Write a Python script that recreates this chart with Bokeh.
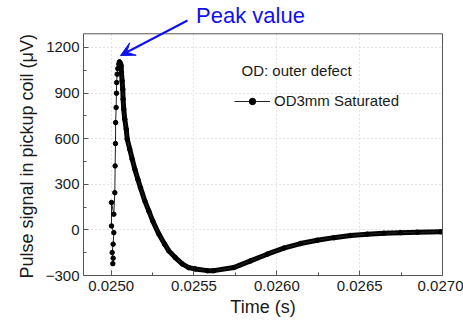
from bokeh.plotting import figure
from bokeh.embed import file_html
from bokeh.resources import INLINE
from bokeh.models import (FixedTicker, Legend, LegendItem, Label, Arrow, VeeHead,
                          NumeralTickFormatter, LinearAxis, Span, BoxAnnotation, Title)

# ---- data ----
time_s = [0.025010, 0.025012, 0.025006, 0.025012, 0.025016, 0.025002, 0.025002, 0.025016, 0.025022,
          0.025024, 0.025026, 0.025027, 0.025030, 0.025032, 0.025033, 0.025036, 0.025040, 0.025046, 0.025050,
          0.025056, 0.025060, 0.025062, 0.025066, 0.025070, 0.025072, 0.025076, 0.025082, 0.025091, 0.025097,
          0.025112, 0.025127, 0.025143, 0.025161, 0.025177, 0.025203, 0.025227, 0.025251, 0.025287, 0.025323,
          0.025348, 0.025387, 0.025429, 0.025468, 0.025509, 0.025580, 0.025620, 0.025740, 0.025841, 0.025942,
          0.026042, 0.026143, 0.026244, 0.026344, 0.026445, 0.026546, 0.026646, 0.026747, 0.026848, 0.026989]
signal_uV = [-222, -186, -149, -94, -18, 26, 180, 103, 245,
             421, 568, 706, 805, 899, 969, 1024, 1061, 1090, 1105,
             1095, 1079, 1035, 980, 925, 860, 794, 728, 662, 597,
             531, 465, 399, 333, 278, 191, 125, 59, -26, -94,
             -138, -182, -224, -248, -257, -268, -268, -248, -204, -160,
             -120, -90, -68, -51, -37, -28, -22, -18, -15, -13]

x_ticks = [0.0250, 0.0255, 0.0260, 0.0265, 0.0270]
y_ticks = [-300, 0, 300, 600, 900, 1200]
series_label = "OD3mm Saturated"
note_text = "OD: outer defect"
peak_text = "Peak value"
x_label = "Time (s)"
y_label = "Pulse signal in pickup coil (\u03bcV)"

FONT = "Liberation Sans"
TXT = "#1a1a1a"
AX = "#555555"
BLUE = "#1010ee"

X0, X1 = 0.024833, 0.0270      # plot box, x
Y0, Y1 = -300, 1290            # plot box, y
Y_TOP = 1509                   # frame extends above the box to hold the annotation

p = figure(width=463, height=324, output_backend="svg", toolbar_location=None, title=None,
           x_range=(X0, X1), y_range=(Y0, Y_TOP),
           min_border_left=83, min_border_right=21, min_border_top=0, min_border_bottom=49)
p.background_fill_color = "white"
p.border_fill_color = "white"
p.outline_line_color = None

# grid
for g in (p.xgrid, p.ygrid):
    g.grid_line_color = "#c8c8c8"
    g.grid_line_dash = "1 3"
    g.grid_line_width = 1

# axes
p.xaxis.ticker = FixedTicker(ticks=x_ticks,
                             minor_ticks=[0.02475, 0.02525, 0.02575, 0.02625, 0.02675])
p.yaxis.ticker = FixedTicker(ticks=y_ticks,
                             minor_ticks=[-150, 150, 450, 750, 1050])
p.yaxis.bounds = (Y0, Y1)
p.xaxis.formatter = NumeralTickFormatter(format="0.0000")
p.xaxis.axis_label = x_label
for ax in (p.xaxis, p.yaxis):
    ax.axis_line_color = AX
    ax.major_tick_line_color = AX
    ax.minor_tick_line_color = AX
    ax.major_tick_in = 5
    ax.major_tick_out = 0
    ax.minor_tick_in = 3
    ax.minor_tick_out = 0
    ax.major_label_text_font = FONT
    ax.major_label_text_font_size = "15px"
    ax.major_label_text_color = TXT
p.xaxis.axis_label_text_font = FONT
p.xaxis.axis_label_text_font_style = "normal"
p.xaxis.axis_label_text_font_size = "18px"
p.xaxis.axis_label_text_color = TXT
p.xaxis.major_label_standoff = 5
p.yaxis.major_label_standoff = 4
p.xaxis.axis_label_standoff = 3

# y label as a side title so it can be centred on the plot box
ytitle = Title(text=y_label, align="left", offset=-3, standoff=12,
               text_font=FONT, text_font_size="18px", text_font_style="normal",
               text_color=TXT)
p.add_layout(ytitle, "left")

# right border of the box
rax = LinearAxis(ticker=FixedTicker(ticks=[]), bounds=(Y0, Y1), axis_line_color=AX,
                 major_tick_line_color=None, minor_tick_line_color=None)
p.add_layout(rax, "right")

# white area above the box, and the top border
p.add_layout(BoxAnnotation(bottom=Y1, fill_color="white", fill_alpha=1, line_alpha=0))
p.add_layout(Span(location=Y1, dimension="width", line_color=AX, line_width=1))

# series
peak_i = signal_uV.index(max(signal_uV))
p.line(time_s[peak_i:], signal_uV[peak_i:], line_color="black", line_width=5,
       line_join="round", line_cap="round")
ln = p.line(time_s, signal_uV, line_color="#222222", line_width=1)
mk = p.scatter(time_s, signal_uV, size=4.5, marker="circle", fill_color="black", line_color="black")

legend = Legend(items=[LegendItem(label=series_label, renderers=[ln, mk])],
                location=(151, 166), padding=0, margin=0, spacing=0,
                border_line_alpha=0, background_fill_alpha=0,
                glyph_width=36, glyph_height=16, label_height=16, label_standoff=4,
                label_text_font=FONT, label_text_font_size="15px", label_text_color=TXT)
p.add_layout(legend, "center")

p.add_layout(Label(x=241, y=70, x_units="canvas", y_units="canvas",
                   text=note_text, text_font=FONT, text_font_size="15px", text_color=TXT,
                   text_baseline="middle", text_align="left"))

# annotation
p.add_layout(Label(x=250, y=15, x_units="canvas", y_units="canvas",
                   text=peak_text, text_font=FONT, text_font_size="22px", text_color=BLUE,
                   text_baseline="middle", text_align="center"))
p.add_layout(Arrow(end=VeeHead(size=14, fill_color=BLUE, line_color=BLUE),
                   x_start=187, y_start=20, x_end=120, y_end=55,
                   start_units="canvas", end_units="canvas",
                   line_color=BLUE, line_width=2))

open("out.html", "w").write(file_html(p, INLINE))
